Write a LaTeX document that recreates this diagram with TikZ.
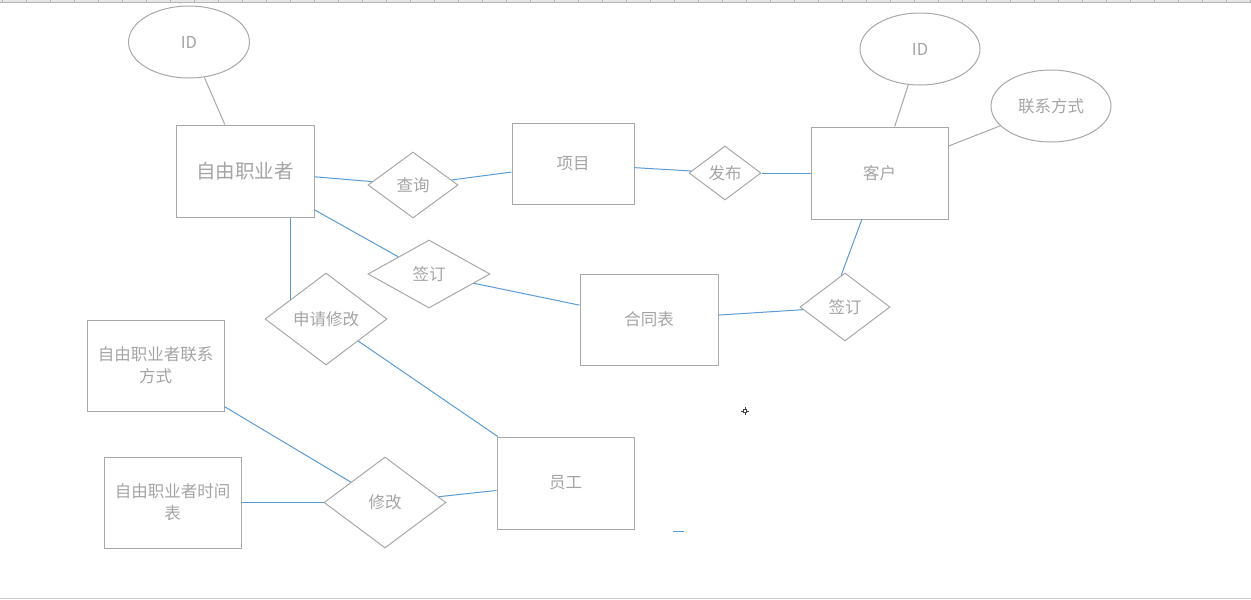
\documentclass[tikz,border=0pt]{standalone}
\usepackage{fontspec}
\newfontfamily\cjk{Noto Sans CJK SC}
\usetikzlibrary{shapes.geometric,calc}
\definecolor{shapegray}{HTML}{A8A8A8}
\definecolor{txtgray}{HTML}{A4A4A4}
\definecolor{linkblue}{HTML}{5B9BD5}
\definecolor{rulerfill}{HTML}{E6E6E6}
\definecolor{rulerline}{HTML}{B4B4B4}
\definecolor{cursorgray}{HTML}{404040}
\tikzset{
  base/.style={draw=shapegray, line width=1pt, inner sep=0pt, text=txtgray,
    font=\cjk\fontsize{16.5pt}{22pt}\selectfont, align=center},
  entity/.style={base, rectangle},
  attr/.style={base, ellipse, minimum width=121pt, minimum height=72pt},
  rel/.style={base, diamond},
  link/.style={draw=linkblue, line width=1pt},
  attrlink/.style={draw=shapegray, line width=1pt},
}
\begin{document}
\begin{tikzpicture}[x=1pt,y=-1pt]
\useasboundingbox (0,0) rectangle (1251,600);
% ruler at top
\fill[rulerfill] (0,0) rectangle (1251,2.5);
\draw[rulerline, line width=0.8pt] (0,2.8) -- (1251,2.8);
\foreach \k in {0,...,52} {
  \draw[rulerline, line width=0.8pt] ({2+24*\k},0) -- ({2+24*\k},2.8);
}
% bottom edge
\draw[rulerline!70, line width=1pt] (0,598.5) -- (1251,598.5);

% entities
\node[entity, minimum width=138pt, minimum height=92pt,
  font=\cjk\fontsize{19.5pt}{24pt}\selectfont] (free) at (245,171) {自由职业者};
\node[entity, minimum width=122pt, minimum height=81pt] (proj) at (573,164) {项目};
\node[entity, minimum width=137pt, minimum height=92pt] (client) at (879.5,173) {客户};
\node[entity, minimum width=138pt, minimum height=91pt] (contract) at (649,319.5) {合同表};
\node[entity, minimum width=137pt, minimum height=91pt] (contact) at (155.5,365.5) {自由职业者联系\\方式};
\node[entity, minimum width=137pt, minimum height=91pt] (sched) at (172.5,502.5) {自由职业者时间\\表};
\node[entity, minimum width=137pt, minimum height=92pt] (staff) at (565.5,483) {员工};

% attributes
\node[attr] (id1) at (189,42) {ID};
\node[attr, minimum width=120pt] (id2) at (920,49) {ID};
\node[attr, minimum width=120pt] (phone) at (1051,106) {联系方式};

% relationships
\node[rel, minimum width=90pt, minimum height=66pt] (query) at (413,185) {查询};
\node[rel, minimum width=72pt, minimum height=54pt] (publish) at (725,173) {发布};
\node[rel, minimum width=122pt, minimum height=68pt] (signA) at (429,274) {签订};
\node[rel, minimum width=90pt, minimum height=68pt] (signB) at (845,307) {签订};
\node[rel, minimum width=122pt, minimum height=92pt] (apply) at (326,319) {申请修改};
\node[rel, minimum width=122pt, minimum height=91pt] (modify) at (385,502.5) {修改};

% attribute links
\draw[attrlink] (id1) -- (free);
\draw[attrlink] (id2) -- (client);
\draw[attrlink] (phone) -- (client);

% relationship links
\draw[link] (free) -- (query);
\draw[link] (query) -- (proj);
\draw[link] (proj) -- (publish);
\draw[link] (publish) -- (client);
\coordinate (cdrop) at ($(client.south west)!0.372!(client.south east)$);
\draw[link] (cdrop) -- (signB.97);
\draw[link] (signB) -- (contract);
\draw[link] (contract) -- (signA);
\draw[link] (free) -- (signA);
\coordinate (fdrop) at ($(free.south west)!0.826!(free.south east)$);
\draw[link] (fdrop) -- (fdrop |- apply.152);
\draw[link] (apply) -- (staff);
\draw[link] (staff) -- (modify);
\draw[link] (sched) -- (modify);
\draw[link] (contact) -- (modify);

% cursor marks
\coordinate (cur) at (745,411);
\draw[cursorgray, line width=1pt] ($(cur)+(-4,0)$) -- ($(cur)+(-1.5,0)$)
  ($(cur)+(1.5,0)$) -- ($(cur)+(4,0)$)
  ($(cur)+(0,-4)$) -- ($(cur)+(0,-1.5)$)
  ($(cur)+(0,1.5)$) -- ($(cur)+(0,4)$);
\draw[cursorgray, line width=0.8pt] ($(cur)+(-1.3,-1.3)$) rectangle ($(cur)+(1.3,1.3)$);
\coordinate (dashA) at (673,531);
\coordinate (dashB) at (684,531);
\draw[linkblue, line width=1pt] (dashA) -- (dashB);
\end{tikzpicture}
\end{document}
